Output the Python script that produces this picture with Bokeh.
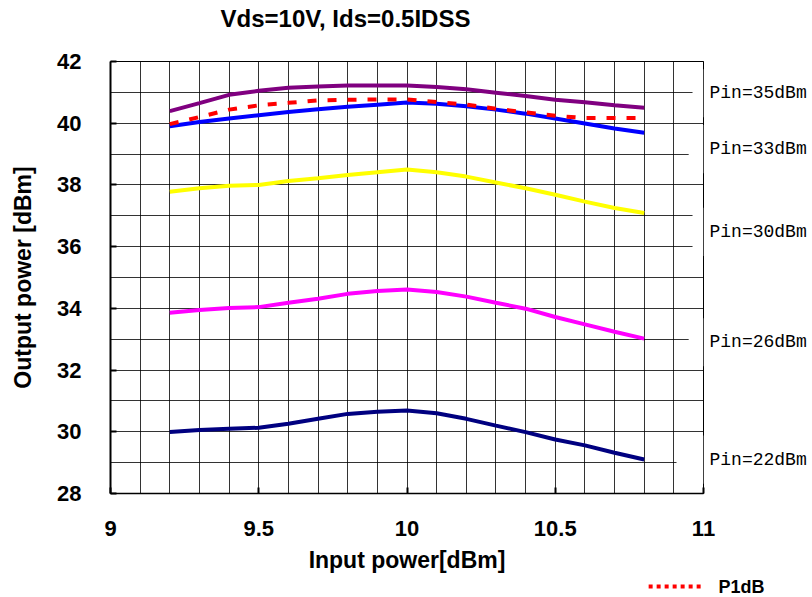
from bokeh.plotting import figure
from bokeh.models import (FixedTicker, SingleIntervalTicker, BoxAnnotation,
                          ColumnDataSource, Range1d, LinearAxis, Label)
from bokeh.layouts import column
from bokeh.embed import file_html
from bokeh.resources import INLINE

# ---- data ----
x_in = [9.2, 9.3, 9.4, 9.5, 9.6, 9.7, 9.8, 9.9, 10.0, 10.1, 10.2, 10.3, 10.4, 10.5, 10.6, 10.7, 10.8]
pin35 = [40.39, 40.65, 40.92, 41.05, 41.15, 41.19, 41.22, 41.22, 41.22, 41.17, 41.10, 40.99, 40.88, 40.76, 40.68, 40.58, 40.50]
pin33 = [39.90, 40.04, 40.15, 40.26, 40.36, 40.45, 40.53, 40.60, 40.67, 40.63, 40.55, 40.44, 40.31, 40.15, 39.99, 39.83, 39.69]
p1db  = [39.97, 40.20, 40.44, 40.58, 40.66, 40.74, 40.76, 40.77, 40.77, 40.69, 40.60, 40.47, 40.35, 40.24, 40.17, 40.17, 40.17]
pin30 = [37.78, 37.89, 37.97, 38.00, 38.13, 38.22, 38.32, 38.41, 38.50, 38.41, 38.27, 38.08, 37.89, 37.68, 37.46, 37.25, 37.09]
pin26 = [33.86, 33.95, 34.01, 34.04, 34.18, 34.31, 34.47, 34.56, 34.61, 34.53, 34.38, 34.18, 33.99, 33.72, 33.48, 33.24, 33.02]
pin22 = [29.99, 30.06, 30.10, 30.13, 30.26, 30.42, 30.58, 30.65, 30.69, 30.60, 30.42, 30.20, 29.99, 29.75, 29.56, 29.32, 29.10]

x_ticks = [9, 9.5, 10, 10.5, 11]
y_ticks = [28, 30, 32, 34, 36, 38, 40, 42]

curve_names = ["Pin=35dBm", "Pin=33dBm", "Pin=30dBm", "Pin=26dBm", "Pin=22dBm"]
curve_label_y = [40.97, 39.16, 36.48, 32.90, 29.10]
label_box_left = [10.963, 10.95, 10.963, 10.95, 10.909]   # where each label's white box starts

title_text = "Vds=10V, Ids=0.5IDSS"
legend_text = "P1dB"
legend_key_x = [10.815, 11.0]   # span of the legend key sample (input-power units)

BOLD = "Liberation Sans"
W = 812
X_RANGE = (9, 11)
Y_RANGE = (28, 42)


def strip(h):
    f = figure(width=W, height=h, output_backend="svg", toolbar_location=None,
               x_range=Range1d(*X_RANGE), y_range=Range1d(0, 1),
               x_axis_location=None, y_axis_location=None,
               min_border=0, min_border_left=110, min_border_right=109,
               min_border_top=0, min_border_bottom=0)
    f.xgrid.visible = False
    f.ygrid.visible = False
    f.outline_line_color = None
    f.background_fill_color = "white"
    f.border_fill_color = "white"
    return f


# ---- title strip ----
tf = strip(40)
tf.add_layout(Label(x=9.371, y=0.55, text=title_text, text_align="left", text_baseline="middle",
                    text_font=BOLD, text_font_style="bold", text_font_size="24px",
                    text_color="black"))

# ---- main chart ----
p = figure(width=W, height=535, output_backend="svg", toolbar_location=None,
           x_range=Range1d(*X_RANGE), y_range=Range1d(*Y_RANGE),
           min_border_left=110, min_border_right=109, min_border_top=21, min_border_bottom=80)
p.background_fill_color = "white"
p.border_fill_color = "white"
p.outline_line_color = "black"
p.outline_line_width = 1

# grid
p.xgrid.ticker = SingleIntervalTicker(interval=0.1, num_minor_ticks=0)
p.ygrid.ticker = SingleIntervalTicker(interval=1, num_minor_ticks=0)
for g in (p.xgrid, p.ygrid):
    g.grid_line_color = "black"
    g.grid_line_alpha = 0.8
    g.grid_line_width = 1

# axes
p.xaxis.ticker = FixedTicker(ticks=x_ticks)
p.yaxis.ticker = FixedTicker(ticks=y_ticks)
for ax in (p.xaxis, p.yaxis):
    ax.axis_line_color = "black"
    ax.major_tick_in = 6
    ax.major_tick_out = 0
    ax.minor_tick_in = 0
    ax.minor_tick_out = 0
    ax.major_tick_line_color = "black"
    ax.major_tick_line_width = 2
    ax.major_label_text_font = BOLD
    ax.major_label_text_font_style = "bold"
    ax.major_label_text_font_size = "22px"
    ax.major_label_text_color = "black"
    ax.axis_label_text_font = BOLD
    ax.axis_label_text_font_style = "bold"
    ax.axis_label_text_font_size = "23px"
    ax.axis_label_text_color = "black"
p.yaxis.axis_line_width = 2
p.xaxis.axis_line_width = 1.5
p.xaxis.axis_label = "Input power[dBm]"
p.yaxis.axis_label = "Output power [dBm]"
p.xaxis.major_label_standoff = 27
p.xaxis.axis_label_standoff = 8
p.yaxis.major_label_standoff = 29
p.yaxis.axis_label_standoff = 18

# right axis carrying the curve names
right_ax = LinearAxis(ticker=FixedTicker(ticks=curve_label_y),
                      major_label_overrides={v: n for v, n in zip(curve_label_y, curve_names)})
right_ax.axis_line_color = "black"
right_ax.axis_line_width = 1
right_ax.major_tick_in = 0
right_ax.major_tick_out = 0
right_ax.minor_tick_in = 0
right_ax.minor_tick_out = 0
right_ax.major_label_standoff = 6
right_ax.major_label_text_font = "Liberation Mono"
right_ax.major_label_text_font_size = "18px"
right_ax.major_label_text_color = "black"
p.add_layout(right_ax, "right")

# white boxes behind the curve names (they hide the grid near the right edge)
for yl, xl in zip(curve_label_y, label_box_left):
    p.add_layout(BoxAnnotation(left=xl, right=11, bottom=yl - 0.78, top=yl + 0.78,
                               fill_color="white", fill_alpha=1.0, line_color=None))

src = ColumnDataSource(dict(x=x_in, pin35=pin35, pin33=pin33, p1db=p1db,
                            pin30=pin30, pin26=pin26, pin22=pin22))

p.line("x", "pin22", source=src, line_color="#000080", line_width=4)
p.line("x", "pin26", source=src, line_color="#FF00FF", line_width=4)
p.line("x", "pin30", source=src, line_color="#FFFF00", line_width=4)
p.line("x", "pin33", source=src, line_color="#0000FF", line_width=4)
p.line("x", "pin35", source=src, line_color="#800080", line_width=4)
p.line("x", "p1db", source=src, line_color="#FF0000", line_width=4, line_dash="9 11")

# ---- legend strip: dotted key sample + text on a right-hand axis ----
lf = strip(22)
key_y = 0.5
lf.line(x=legend_key_x, y=[key_y, key_y], line_color="#FF0000", line_width=4, line_dash="4 4")
leg_ax = LinearAxis(ticker=FixedTicker(ticks=[key_y]), major_label_overrides={key_y: legend_text})
leg_ax.axis_line_color = None
leg_ax.major_tick_in = 0
leg_ax.major_tick_out = 0
leg_ax.minor_tick_in = 0
leg_ax.minor_tick_out = 0
leg_ax.major_label_standoff = 15
leg_ax.major_label_text_font = BOLD
leg_ax.major_label_text_font_style = "bold"
leg_ax.major_label_text_font_size = "18px"
leg_ax.major_label_text_color = "black"
lf.add_layout(leg_ax, "right")

layout = column(tf, p, lf, spacing=0)
open("out.html", "w").write(file_html(layout, INLINE))
